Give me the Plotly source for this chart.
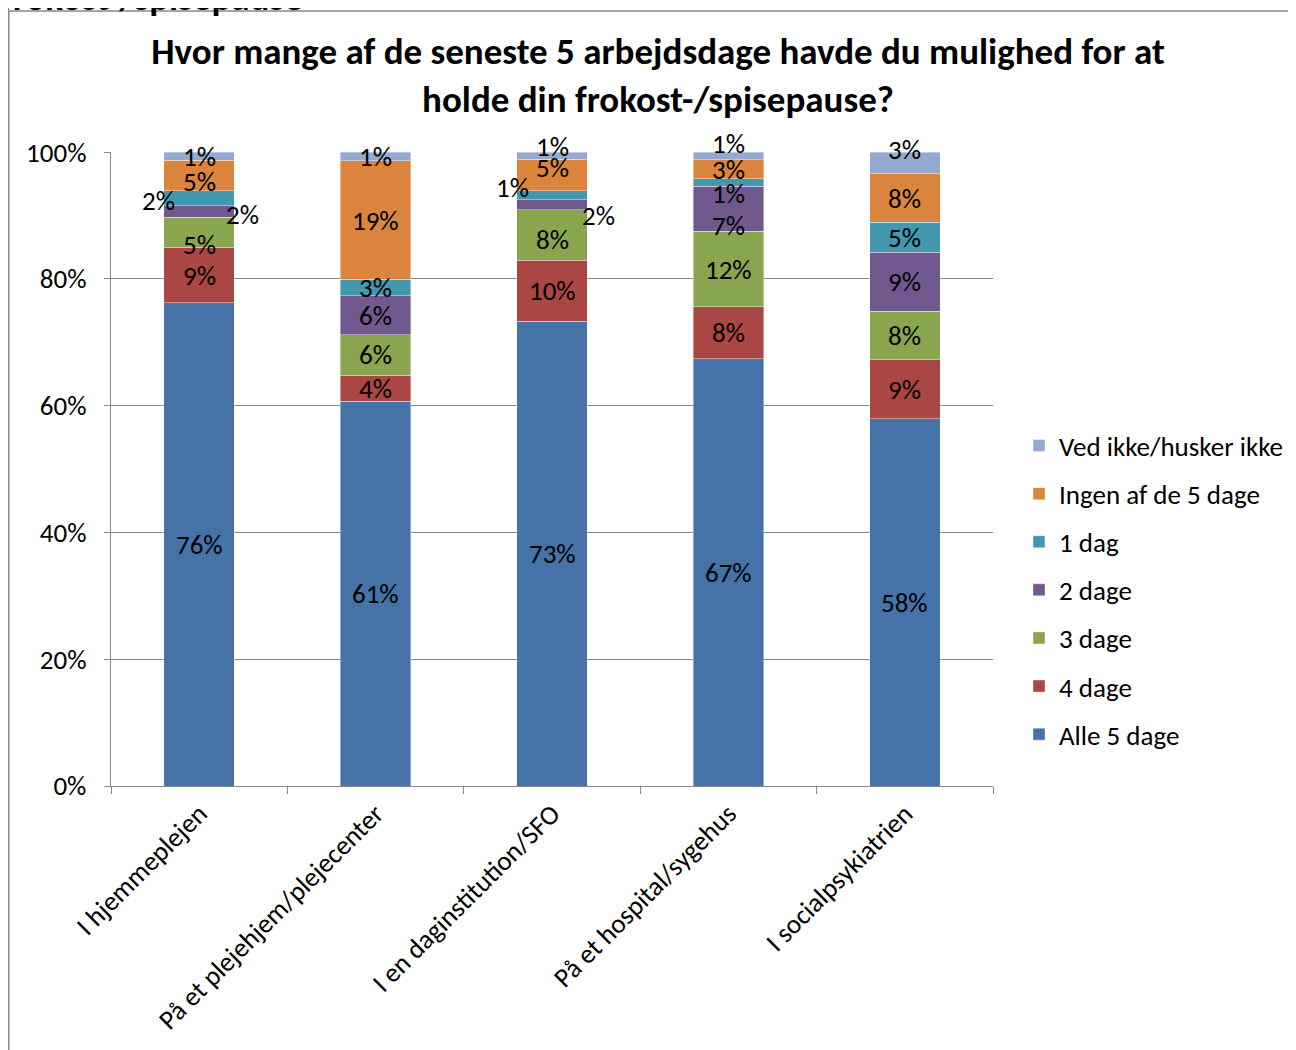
import plotly.graph_objects as go

categories = ["I hjemmeplejen", "På et plejehjem/plejecenter", "I en daginstitution/SFO",
              "På et hospital/sygehus", "I socialpsykiatrien"]
series_names = ["Alle 5 dage", "4 dage", "3 dage", "2 dage", "1 dag",
                "Ingen af de 5 dage", "Ved ikke/husker ikke"]
alle5 = [76.2, 60.7, 73.3, 67.4, 57.9]
dage4 = [8.8, 4.1, 9.6, 8.2, 9.3]
dage3 = [4.7, 6.4, 8.0, 11.9, 7.7]
dage2 = [1.8, 6.1, 1.6, 7.1, 9.3]
dag1 = [2.4, 2.6, 1.4, 1.2, 4.7]
ingen = [4.8, 18.7, 5.0, 3.0, 7.7]
vedikke = [1.3, 1.4, 1.1, 1.2, 3.4]
series_values = [alle5, dage4, dage3, dage2, dag1, ingen, vedikke]
y_ticks = [0, 20, 40, 60, 80, 100]
y_tick_labels = ["0%", "20%", "40%", "60%", "80%", "100%"]

colors = ["#4572A7", "#AA4643", "#89A54E", "#71588F", "#4198AF", "#DB843D", "#93A9CF"]

# manual nudges of some data labels (xshift, yshift in px), as in the original
label_nudge = {
    (5, 0): (0, -6), (4, 0): (-41, -2), (3, 0): (43, -3), (2, 0): (0, -12),
    (6, 2): (0, 9), (5, 2): (0, 7), (4, 2): (-40, 8), (3, 2): (46, -11), (2, 2): (0, -4),
    (6, 3): (0, 12), (4, 3): (0, -11), (3, 3): (0, -17),
    (6, 4): (0, 13),
}

FONT = "Carlito, Calibri, Lato, sans-serif"
GRID = "#888888"
W, H = 1288, 1042
L, T, PW, PH = 103, 144, 882, 634


def px_to_paper_x(px):
    return (px - L) / PW


def px_to_paper_y(py):
    return (T + PH - py) / PH


fig = go.Figure()
n = len(series_names)
for i, (name, vals, col) in enumerate(zip(series_names, series_values, colors)):
    fig.add_trace(go.Bar(
        name=name, x=categories, y=vals, width=0.4,
        marker=dict(color=col, line=dict(color="rgba(255,255,255,0.5)", width=0.8)),
        legendgroup=name, legendrank=n - i,
    ))

annotations = []
cum = [0.0] * len(categories)
for si, vals in enumerate(series_values):
    for ci, v in enumerate(vals):
        mid = cum[ci] + v / 2
        cum[ci] += v
        dx, dy = label_nudge.get((si, ci), (0, 0))
        annotations.append(dict(
            x=categories[ci], y=mid, xref="x", yref="y",
            text=f"{int(v + 0.5)}%", showarrow=False,
            xshift=dx, yshift=dy,
            font=dict(family=FONT, size=27, color="black"),
        ))

# partially visible heading above the chart frame
annotations.append(dict(
    xref="paper", yref="paper", x=px_to_paper_x(-9), y=px_to_paper_y(-10.5),
    xanchor="left", yanchor="middle",
    text="<b>frokost-/spisepause</b>", showarrow=False,
    font=dict(family=FONT, size=37, color="black"),
))

fig.update_layout(
    width=W, height=H,
    margin=dict(l=L, r=W - L - PW, t=T, b=H - T - PH, autoexpand=False),
    paper_bgcolor="white", plot_bgcolor="white",
    barmode="stack",
    font=dict(family=FONT, size=27, color="black"),
    title=dict(
        text="<b>Hvor mange af de seneste 5 arbejdsdage havde du mulighed for at<br>holde din frokost-/spisepause?</b>",
        x=px_to_paper_x(650), xref="paper", xanchor="center",
        y=1 - 56 / H, yref="container", yanchor="middle",
        font=dict(family=FONT, size=37, color="black"),
    ),
    xaxis=dict(
        type="category", showline=True, linecolor=GRID, linewidth=1.3,
        ticks="outside", tickson="boundaries", ticklen=7, tickcolor=GRID, tickwidth=1.3,
        tickangle=-45, tickfont=dict(family=FONT, size=27, color="black"),
        showgrid=False, automargin=False,
    ),
    yaxis=dict(
        range=[0, 100.01], tickvals=y_ticks, ticktext=y_tick_labels,
        showline=True, linecolor=GRID, linewidth=1.3,
        ticks="outside", ticklen=6, tickcolor=GRID, tickwidth=1.3,
        ticklabelstandoff=12,
        showgrid=True, gridcolor=GRID, gridwidth=1.3, zeroline=False,
        tickfont=dict(family=FONT, size=27, color="black"), automargin=False,
    ),
    legend=dict(
        x=px_to_paper_x(1011), y=px_to_paper_y(582), xanchor="left", yanchor="middle",
        traceorder="grouped", tracegroupgap=10,
        font=dict(family=FONT, size=27, color="black"),
        bgcolor="rgba(0,0,0,0)",
    ),
    annotations=annotations,
    shapes=[dict(
        type="rect", xref="paper", yref="paper",
        x0=px_to_paper_x(0.75), x1=px_to_paper_x(1300),
        y0=px_to_paper_y(1070), y1=px_to_paper_y(3),
        line=dict(color=GRID, width=1.5), fillcolor="rgba(0,0,0,0)", layer="below",
    )],
)

fig.write_html("out.html")
